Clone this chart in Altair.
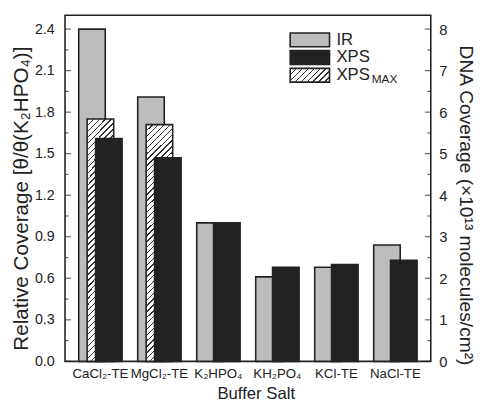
import altair as alt
import pandas as pd

# ---------------- data ----------------
salts = ["CaCl₂-TE", "MgCl₂-TE", "K₂HPO₄", "KH₂PO₄", "KCl-TE", "NaCl-TE"]
ir_values = [2.40, 1.91, 1.00, 0.61, 0.68, 0.84]
xps_values = [1.61, 1.47, 1.00, 0.68, 0.70, 0.73]
xps_max_salts = ["CaCl₂-TE", "MgCl₂-TE"]
xps_max_values = [1.75, 1.71]
# slot order inside each group (outer slots are empty spacing)
series_slots = ["s1", "s2", "IR", "XPSMAX", "XPS", "s3", "s4"]

left_major = [0.0, 0.3, 0.6, 0.9, 1.2, 1.5, 1.8, 2.1, 2.4]
left_minor = [0.15, 0.45, 0.75, 1.05, 1.35, 1.65, 1.95, 2.25]
right_major = [0, 1, 2, 3, 4, 5, 6, 7, 8]
right_minor = [0.5, 1.5, 2.5, 3.5, 4.5, 5.5, 6.5, 7.5]

Y_MAX = 2.5
COVERAGE_PER_UNIT = 10 / 3  # 1.0 relative = 3.33e13 molecules/cm2
RIGHT_MAX = Y_MAX * COVERAGE_PER_UNIT

# ---------------- style ----------------
W, H = 372, 352
FONT = "Liberation Sans"
INK = "#222222"
GREY = "#bdbdbd"
BAR_W = 27
MAJ, MIN = 6, 3.5


def hatch(w, h, period=6.0, line=1.4, dark="#333333", light="#ffffff"):
    s = (w + h) * w / (w * w + h * h)
    n = int(round((w + h) / period))
    stops = []
    for k in range(n):
        t0 = k / n
        t1 = (k + line / period) / n
        t2 = (k + 1) / n
        stops += [
            {"offset": t0, "color": dark},
            {"offset": t1, "color": dark},
            {"offset": t1, "color": light},
            {"offset": t2, "color": light},
        ]
    return {"gradient": "linear", "x1": 0, "y1": 0, "x2": s, "y2": s * h / w,
            "stops": stops}


ir_df = pd.DataFrame({"salt": salts, "series": "IR", "value": ir_values})
xps_df = pd.DataFrame({"salt": salts, "series": "XPS", "value": xps_values})
xmax_df = pd.DataFrame({"salt": xps_max_salts, "series": "XPSMAX", "value": xps_max_values})

x_enc = alt.X(
    "salt:N", sort=salts,
    scale=alt.Scale(domain=salts, paddingInner=0, paddingOuter=0.1),
    axis=alt.Axis(title="Buffer Salt", labelAngle=0, ticks=False, domain=False,
                  labelPadding=5, labelFontSize=13.5, titleFontSize=17,
                  titlePadding=6, labelColor=INK, titleColor=INK, titleX=194,
                  labelFont=FONT, titleFont=FONT, titleFontWeight="normal"),
)
xo_enc = alt.XOffset("series:N",
                     scale=alt.Scale(domain=series_slots, paddingInner=0, paddingOuter=0))
y_scale = alt.Scale(domain=[0, Y_MAX], nice=False, zero=True)

y_axis = alt.Axis(values=left_major, format=".1f", ticks=False, domain=False,
                  labelPadding=11, labelFontSize=14.5, labelColor=INK, labelFont=FONT,
                  title="Relative Coverage [θ/θ(K₂HPO₄)]", titleFontSize=21,
                  titleFont=FONT, titleColor=INK, titleFontWeight="normal",
                  titleX=-34, titleY=186)
y_bar = alt.Y("value:Q", scale=y_scale, axis=y_axis)

ir_bars = alt.Chart(ir_df).mark_bar(width=BAR_W, fill=GREY, stroke=INK, strokeWidth=1.6).encode(
    x=x_enc, xOffset=xo_enc, y=y_bar)

hatch_h = sum(xps_max_values) / len(xps_max_values) / Y_MAX * H
max_bars = alt.Chart(xmax_df).mark_bar(width=BAR_W, fill=hatch(BAR_W, hatch_h), stroke=INK,
                                       strokeWidth=1.6).encode(
    x=x_enc, xOffset=xo_enc, y=y_bar)

xps_bars = alt.Chart(xps_df).mark_bar(width=BAR_W, fill=INK, stroke=INK, strokeWidth=1.6).encode(
    x=x_enc, xOffset=xo_enc, y=y_bar)

bars = alt.layer(ir_bars, max_bars, xps_bars)

# left inward ticks
lmaj = alt.Chart(pd.DataFrame({"v": left_major})).mark_tick(
    color=INK, thickness=1.2, orient="horizontal", size=MAJ, xOffset=MAJ / 2).encode(
    y=alt.Y("v:Q", scale=y_scale, axis=None), x=alt.value(0))
lmin = alt.Chart(pd.DataFrame({"v": left_minor})).mark_tick(
    color=INK, thickness=1.2, orient="horizontal", size=MIN, xOffset=MIN / 2).encode(
    y=alt.Y("v:Q", scale=y_scale, axis=None), x=alt.value(0))
left_ticks = alt.layer(lmaj, lmin)

# right axis with inward ticks
r_scale = alt.Scale(domain=[0, RIGHT_MAX], nice=False, zero=True)
r_axis = alt.Axis(orient="right", values=right_major, format="d", ticks=False, domain=False,
                  labelPadding=8, labelFontSize=15, labelColor=INK, labelFont=FONT,
                  title="DNA Coverage (×10¹³ molecules/cm²)", titleAngle=90,
                  titleFontSize=19.5, titleFont=FONT, titleColor=INK,
                  titleFontWeight="normal", titleX=25, titleY=193)
rmaj = alt.Chart(pd.DataFrame({"v": right_major})).mark_tick(
    color=INK, thickness=1.2, orient="horizontal", size=MAJ, xOffset=-MAJ / 2).encode(
    y=alt.Y("v:Q", scale=r_scale, axis=r_axis), x=alt.value(W))
rmin = alt.Chart(pd.DataFrame({"v": right_minor})).mark_tick(
    color=INK, thickness=1.2, orient="horizontal", size=MIN, xOffset=-MIN / 2).encode(
    y=alt.Y("v:Q", scale=r_scale, axis=r_axis), x=alt.value(W))
right_ticks = alt.layer(rmaj, rmin)

# legend (manual, to show the hatched swatch)
leg_x, leg_x2 = 229, 269
one = pd.DataFrame({"k": [0]})
sw_ir = alt.Chart(one).mark_rect(fill=GREY, stroke=INK, strokeWidth=1.6).encode(
    x=alt.value(leg_x), x2=alt.value(leg_x2), y=alt.value(18), y2=alt.value(32))
sw_xps = alt.Chart(one).mark_rect(fill=INK, stroke=INK, strokeWidth=1.6).encode(
    x=alt.value(leg_x), x2=alt.value(leg_x2), y=alt.value(36), y2=alt.value(50))
sw_max = alt.Chart(one).mark_rect(fill=hatch(40, 14), stroke=INK, strokeWidth=1.6).encode(
    x=alt.value(leg_x), x2=alt.value(leg_x2), y=alt.value(54), y2=alt.value(68))


def leg_label(text, y, size=17, x=276):
    return alt.Chart(pd.DataFrame({"t": [text]})).mark_text(
        align="left", baseline="middle", fontSize=size, font=FONT, color=INK).encode(
        x=alt.value(x), y=alt.value(y), text="t:N")


legend = alt.layer(sw_ir, sw_xps, sw_max,
                   leg_label("IR", 25), leg_label("XPS", 43), leg_label("XPS", 61),
                   leg_label("MAX", 65, size=12, x=312))

chart = alt.layer(bars, left_ticks, right_ticks, legend).resolve_scale(
    y="independent").properties(
    width=W, height=H,
    autosize=alt.AutoSizeParams(type="none"),
    padding={"left": 58, "top": 4, "right": 46, "bottom": 40},
    background="white",
).configure_view(stroke=INK, strokeWidth=1.6).configure_axis(grid=False)

chart.save("out.html", embed_options={"renderer": "svg", "actions": False})
